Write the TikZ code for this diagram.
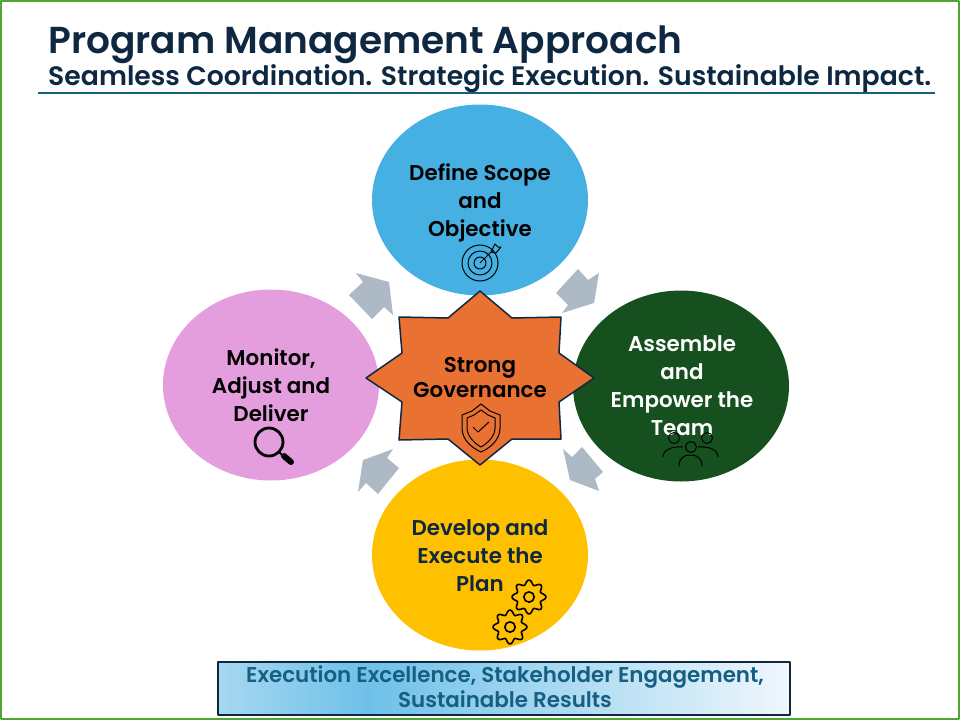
\documentclass[tikz,border=0pt]{standalone}
\usepackage{fontspec}
\setmainfont{Poppins SemiBold}
\usetikzlibrary{shapes.geometric}
\definecolor{navy}{HTML}{0E2841}
\definecolor{rulecol}{HTML}{156082}
\definecolor{framecol}{HTML}{4EA72E}
\definecolor{bluecol}{HTML}{45B0E1}
\definecolor{greencol}{HTML}{15501E}
\definecolor{pinkcol}{HTML}{E49EDD}
\definecolor{yellowcol}{HTML}{FFC000}
\definecolor{starcol}{HTML}{E97132}
\definecolor{arrowcol}{HTML}{ADB9C5}
\definecolor{shadea}{HTML}{A6D8F1}
\definecolor{shadeb}{HTML}{6FC0E8}
\definecolor{shadec}{HTML}{F0F7FD}
\pgfdeclarehorizontalshading{bannershade}{100bp}{color(0bp)=(shadea); color(25bp)=(shadea); color(38bp)=(shadeb); color(75bp)=(shadec); color(100bp)=(shadec)}
\tikzset{
petal/.style={ellipse,minimum width=216,minimum height=191,inner sep=0,outer sep=0},
lbl/.style={align=center,font=\fontsize{21.4}{28}\selectfont},
icon/.style={draw=black,line width=1,fill=none},
pics/gearicon/.style={code={
\draw[line width=1.6,fill=none] plot[smooth cycle,samples=65,domain=0:354.375] (\x:{14.7+2.3*cos(8*\x)});
\draw[line width=1.6] (0,0) circle (5.2);}}
}
\begin{document}
\begin{tikzpicture}[x=1pt,y=-1pt,line join=round]
\useasboundingbox (0,0) rectangle (960,720);
\draw[framecol,line width=2] (1,1) rectangle (959,719);
\node[anchor=west,inner sep=0,text=navy,font=\fontsize{37.5}{37.5}\selectfont] (title) at (48,45) {Program Management Approach};
\node[anchor=west,inner sep=0,text=navy,font=\fontsize{26.7}{26.7}\selectfont] (subtitle) at (48,79) {Seamless Coordination. Strategic Execution. Sustainable Impact.};
\draw[rulecol,line width=1.5] (38,93)--(935,93);
% petals
\node[petal,fill=bluecol] (scope) at (480,200) {};
\node[petal,fill=greencol] (team) at (681,386) {};
\node[petal,fill=pinkcol] (monitor) at (271,385) {};
\node[petal,fill=yellowcol] (plan) at (480,555) {};
% block arrows
\fill[arrowcol] (578,269)--(588,280)--(599,273)--(594,303)--(562,313)--(568,305)--(556,293)--cycle;
\fill[arrowcol] (563,449)--(572,457)--(582,447)--(603,472)--(595,479)--(599,491)--(570,480)--cycle;
\fill[arrowcol] (393,449)--(387,458)--(399,468)--(378,494)--(366,483)--(358,492)--(363,460)--cycle;
\fill[arrowcol] (356,273)--(363,282)--(349,295)--(372,319)--(384,307)--(393,315)--(389,282)--cycle;
% centre star
\draw[fill=starcol,draw=navy,line width=1.5] (480,291)--(512,318)--(561,317)--(559,353)--(594,378)--(559,402)--(561,439)--(512,439)--(480,465)--(448,439)--(399,440)--(402,402)--(366,378)--(402,353)--(399,317)--(448,318)--cycle;
% labels
\node[lbl,text=black] (scopetxt) at (480,203) {Define Scope\\and\\Objective};
\node[lbl,text=white] (teamtxt) at (682,385.5) {Assemble\\and\\Empower the\\Team};
\node[lbl,text=black] (monitortxt) at (271,385) {Monitor,\\Adjust and\\Deliver};
\node[lbl,text=navy] (plantxt) at (480,555.5) {Develop and\\Execute the\\Plan};
\node[lbl,text=black,font=\fontsize{21.4}{25}\selectfont] (govtxt) at (480,378) {Strong\\Governance};
% target
\foreach \r in {18,12,6}{\draw[icon] (480,263) circle (\r);}
\draw[icon] (480,263)--(493,250) (491,252)--(495,244)--(498,247)--(501,247)--(496,253)--cycle;
% shield
\draw[icon] (481,404)--(490,411)--(500,415)--(500,428) .. controls (500,440) and (490,448) .. (481,452) .. controls (472,448) and (462,440) .. (462,428)--(462,415)--(472,411)--cycle;
\draw[icon] (481,410)--(488,415)--(495,418)--(495,428) .. controls (495,436) and (488,443) .. (481,447) .. controls (474,443) and (467,436) .. (467,428)--(467,418)--(474,415)--cycle;
\draw[icon] (473,427)--(478,432)--(489,422);
% people
\foreach \i/\j/\r in {674/438/5.5,707/438/5.5,691/447/5.5}{\draw[icon] (\i,\j) circle (\r);}
\draw[icon] (663,457) .. controls (663,450) and (672,446) .. (683,447);
\draw[icon] (718,457) .. controls (718,450) and (709,446) .. (698,447);
\draw[icon] (679,466) .. controls (679,458) and (684,455) .. (690,455) .. controls (697,455) and (702,458) .. (702,466);
% magnifier
\draw[line width=2.8] (269,442) circle (14);
\draw[line width=2] (279,452)--(283,456);
\draw[line width=6,line cap=round] (284,456)--(291,462);
% gears
\pic at (529,597) {gearicon};
\pic at (510,627) {gearicon};
% banner
\node[draw=navy,line width=2,minimum width=572,minimum height=53,inner sep=0,shading=bannershade,shading angle=0] (banner) at (504,688) {};
\node[align=center,text=rulecol,font=\fontsize{21.4}{25}\selectfont] (bannertxt) at (505,687) {Execution Excellence, Stakeholder Engagement,\\Sustainable Results};
\end{tikzpicture}
\end{document}
